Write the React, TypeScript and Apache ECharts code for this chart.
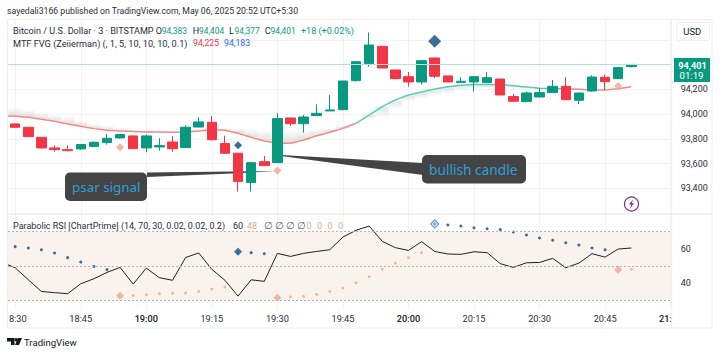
import React, { useEffect, useRef } from "react";
import * as echarts from "echarts";

const timeLabels = ["18:30","18:45","19:00","19:15","19:30","19:45","20:00","20:15","20:30","20:45","21:00"];
const priceTicks = [93400,93600,93800,94000,94200,94400,94600];
const priceLabels = [93400,93600,93800,94000,94200];
const oscLabels = [40,60];
const oscLevels = [70,50,30];

// open, close, low, high
const candles = [
[93920,93893,93887,93925],[93893,93817,93817,93893],[93812,93726,93720,93812],[93726,93712,93696,93747],
[93712,93704,93699,93747],[93718,93753,93712,93753],[93737,93772,93734,93777],[93769,93804,93753,93839],
[93807,93834,93801,93839],[93823,93720,93720,93823],[93726,93823,93691,93834],[93734,93745,93704,93804],
[93774,93720,93696,93823],[93729,93893,93726,93909],[93895,93936,93893,93974],[93933,93793,93785,93984],
[93761,93683,93680,93825],[93683,93454,93373,93683],[93446,93607,93373,93610],[93615,93583,93583,93661],
[93607,93963,93605,94006],[93968,93922,93904,93968],[93922,93976,93850,93992],[93987,94006,93984,94079],
[94025,94033,94025,94154],[94035,94267,94033,94267],[94270,94423,94262,94423],[94407,94558,94383,94658],
[94547,94372,94372,94547],[94356,94286,94281,94356],[94302,94259,94221,94340],[94259,94431,94238,94437],
[94453,94305,94291,94453],[94308,94259,94259,94308],[94256,94265,94254,94297],[94259,94302,94181,94308],
[94254,94294,94254,94340],[94283,94154,94154,94283],[94141,94103,94100,94162],[94100,94170,94098,94181],
[94138,94173,94135,94211],[94173,94224,94170,94275],[94224,94116,94113,94297],[94111,94170,94081,94170],
[94186,94299,94181,94313],[94297,94262,94194,94318],[94286,94375,94283,94375],[94383,94401,94377,94404],
];
const maValues = [93982,93974,93957,93941,93920,93901,93882,93869,93863,93858,93855,93855,93852,93855,93863,93874,93869,93844,93812,93782,93763,93763,93790,93825,93852,93885,93925,93992,94060,94114,94154,94178,94202,94221,94232,94238,94238,94238,94229,94219,94208,94205,94205,94200,94194,94194,94205,94221];
const fvgEdge = [94046,94033,94011,93992,93974,93947,93920,93904,93887,93877,93871,93866,93863,93866,93877,93885,93887,93885,93877,93866,93858,93866,93871,93877,93885,93904,93925,93965,93979,94046,94100,94127,94146,94167,94194,94205,94211,94216,94216,94208];
const rsiValues = [49.0,42.0,35.2,34.5,33.9,39.7,42.6,46.3,49.2,39.5,48.8,43.2,41.7,55.0,57.6,48.1,41.7,32.5,42.0,41.1,57.4,55.6,57.4,58.5,59.5,66.9,70.8,73.3,64.4,60.7,59.1,64.2,58.5,57.0,56.8,58.3,57.8,51.4,49.2,51.9,52.1,54.5,49.0,51.7,57.2,55.2,59.9,60.5];
const psarDown: [number, number][] = [[0,61.3],[1,60.5],[2,59.5],[3,57.6],[4,54.9],[5,52.3],[6,49.8],[7,47.9],[18,57.8],[19,57.2],[33,73.9],[34,73.3],[35,72.3],[36,71.7],[37,71.2],[38,69.8],[39,68.1],[40,66.3],[41,65.0],[42,63.6],[43,62.2],[44,60.5],[45,59.5]];
const psarUp: [number, number][] = [[9,32.9],[10,33.3],[11,33.9],[12,34.1],[13,34.3],[14,35.2],[15,36.6],[16,37.8],[21,32.1],[22,32.3],[23,33.5],[24,35.2],[25,37.2],[26,40.3],[27,43.8],[28,48.1],[29,51.7],[30,54.9],[31,57.8],[47,48.1]];
const psarFlipUp: [number, number][] = [[8,32.7],[20,31.6],[46,47.9]];
const psarFlipDown: [number, number][] = [[17,58.3]];
const psarHollow: [number, number][] = [[32,74.5]];
const priceFlipUp: [number, number][] = [[8,93731],[20,93543],[46,94227]];
const priceFlipDown: [number, number][] = [[17,93747]];
const priceBigDown: [number, number][] = [[32,94588]];

const RED = "#f23645", GREEN = "#089981", NAVY = "#0a4a7d", SALMON = "#e9a88c", GRID = "#f1f3f6", FRAME = "#eceef2";
const FONT = "Roboto, sans-serif";
const NOTE_FONT = "'Noto Sans', sans-serif";
const X_MIN = -0.55, X_MAX = 50.08;
const fmtPrice = (v: number) => v.toLocaleString("en-US");

function Chart() {
  const ref = useRef<HTMLDivElement>(null);
  useEffect(() => {
    const chart = echarts.init(ref.current!, undefined, { renderer: "svg" });
    const txt = (x: number, y: number, text: string, fill = "#131722", size = 9.1, extra: any = {}) => ({
      type: "text", x, y, z: 60, silent: true,
      style: { text, fill, font: `${extra.weight || 400} ${size}px ${extra.family || FONT}`, textAlign: extra.align || "left", textVerticalAlign: "middle" },
    });
    const poly = (points: number[][], fill: string, z = 55) => ({ type: "polygon", z, silent: true, shape: { points }, style: { fill } });
    const idx = candles.map((_, i) => i);
    const redIdx = (i: number) => i <= 25 || i >= 42;
    const maLine = (from: number, to: number, color: string, extra: [number, number][] = []) => ({
      type: "line", xAxisIndex: 0, yAxisIndex: 0, showSymbol: false, silent: true, clip: true, z: 3,
      lineStyle: { color, width: 1.5 },
      data: [...extra, ...idx.slice(from, to + 1).map((i) => [i, maValues[i]])],
    });
    const xAxisBase = (gridIndex: number, show: boolean) => ({
      type: "value", gridIndex, min: X_MIN, max: X_MAX,
      axisLine: { show: false }, axisTick: { show: false, customValues: timeLabels.map((_, i) => i * 5) },
      splitLine: { show: true, lineStyle: { color: GRID, width: 1 } },
      axisLabel: show ? {
        show: true, customValues: timeLabels.map((_, i) => i * 5), margin: 5, hideOverlap: false, showMinLabel: true, showMaxLabel: true,
        formatter: (v: number) => {
          const s = timeLabels[Math.round(v / 5)];
          return s.endsWith(":00") ? `{b|${s}}` : `{n|${s}}`;
        },
        rich: {
          b: { fontFamily: FONT, fontSize: 9.2, fontWeight: 500, color: "#131722" },
          n: { fontFamily: FONT, fontSize: 9.2, color: "#2a2e39" },
        },
      } : { show: false },
    });
    chart.setOption({
      animation: false,
      backgroundColor: "#fff",
      grid: [
        { left: 8, top: 19.5, width: 663.7, height: 194.5 },
        { left: 8, top: 214, width: 663.7, height: 95 },
      ],
      xAxis: [xAxisBase(0, false), xAxisBase(1, true)],
      yAxis: [
        {
          type: "value", gridIndex: 0, position: "right", min: 93192, max: 94764, scale: true,
          axisLine: { show: false }, axisTick: { show: false, customValues: priceTicks },
          splitLine: { show: true, lineStyle: { color: GRID, width: 1 } },
          axisLabel: { customValues: priceLabels, margin: 9, color: "#2a2e39", fontFamily: FONT, fontSize: 9, formatter: fmtPrice },
        },
        {
          type: "value", gridIndex: 1, position: "right", min: 25, max: 80.3,
          axisLine: { show: false }, axisTick: { show: false, customValues: oscLabels },
          splitLine: { show: false },
          axisLabel: { customValues: oscLabels, margin: 9, color: "#2a2e39", fontFamily: FONT, fontSize: 9 },
        },
      ],
      series: [
        {
          type: "custom", xAxisIndex: 0, yAxisIndex: 0, silent: true, z: 1, clip: true,
          data: fvgEdge.map((e, i) => [i, maValues[i], e]),
          encode: { x: 0, y: [1, 2] },
          renderItem: (_p: any, api: any) => {
            const i = api.value(0), a = api.coord([i - 0.5, api.value(1)]), b = api.coord([i + 0.5, api.value(2)]);
            const isRed = redIdx(i);
            const above = b[1] < a[1];
            return {
              type: "rect",
              shape: { x: a[0], y: Math.min(a[1], b[1]), width: b[0] - a[0], height: Math.abs(b[1] - a[1]) },
              style: { fill: new echarts.graphic.LinearGradient(0, above ? 1 : 0, 0, above ? 0 : 1, [
                { offset: 0, color: isRed ? "rgba(238,190,190,0.55)" : "rgba(190,232,218,0.5)" },
                { offset: 0.45, color: "rgba(208,208,208,0.42)" },
                { offset: 1, color: "rgba(222,222,222,0.1)" },
              ]) },
            };
          },
        },
        maLine(0, 26, "#ec8d8d", [[-1, 93984]]),
        maLine(26, 42, "#56cfae"),
        maLine(42, 47, "#ec8d8d"),
        {
          type: "candlestick", xAxisIndex: 0, yAxisIndex: 0, barWidth: 10, z: 4, silent: true,
          itemStyle: { color: GREEN, color0: RED, borderColor: GREEN, borderColor0: RED, borderWidth: 1 },
          encode: { x: 0, y: [1, 2, 3, 4] },
          data: candles.map((c, i) => [i, ...c]),
          markLine: {
            silent: true, symbol: "none", label: { show: false },
            lineStyle: { color: "#b5e2d6", type: "solid", width: 1 },
            data: [{ yAxis: candles[47][1] }],
          },
        },
        { type: "scatter", xAxisIndex: 0, yAxisIndex: 0, symbol: "diamond", symbolSize: 8, itemStyle: { color: SALMON }, data: priceFlipUp, z: 5, silent: true },
        { type: "scatter", xAxisIndex: 0, yAxisIndex: 0, symbol: "diamond", symbolSize: 8, itemStyle: { color: NAVY }, data: priceFlipDown, z: 5, silent: true },
        { type: "scatter", xAxisIndex: 0, yAxisIndex: 0, symbol: "diamond", symbolSize: 13, itemStyle: { color: NAVY }, data: priceBigDown, z: 5, silent: true },
        {
          type: "line", xAxisIndex: 1, yAxisIndex: 1, symbol: "none", silent: true, z: 3,
          lineStyle: { color: "#1e2025", width: 1 },
          data: [[-1, 52.1], ...rsiValues.map((v, i) => [i, v])],
          markArea: { silent: true, itemStyle: { color: "#f9f2ed" }, data: [[{ yAxis: oscLevels[2], x: 8 }, { yAxis: oscLevels[0], x: 671.7 }]] },
          markLine: {
            silent: true, symbol: "none", label: { show: false },
            lineStyle: { color: "#b5b3b0", type: [2, 2], width: 1 },
            data: oscLevels.map((v) => ({ yAxis: v })),
          },
        },
        { type: "scatter", xAxisIndex: 1, yAxisIndex: 1, symbol: "circle", symbolSize: 3, itemStyle: { color: NAVY }, data: psarDown, z: 4, silent: true },
        { type: "scatter", xAxisIndex: 1, yAxisIndex: 1, symbol: "circle", symbolSize: 2.8, itemStyle: { color: "#e9a28a" }, data: psarUp, z: 4, silent: true },
        { type: "scatter", xAxisIndex: 1, yAxisIndex: 1, symbol: "diamond", symbolSize: 8, itemStyle: { color: SALMON }, data: psarFlipUp, z: 4, silent: true },
        { type: "scatter", xAxisIndex: 1, yAxisIndex: 1, symbol: "diamond", symbolSize: 8, itemStyle: { color: NAVY }, data: psarFlipDown, z: 4, silent: true },
        { type: "scatter", xAxisIndex: 1, yAxisIndex: 1, symbol: "diamond", symbolSize: 8, itemStyle: { color: "#eaf3fa", borderColor: "#3d86bd", borderWidth: 1.2 }, data: psarHollow, z: 4, silent: true },
        { type: "scatter", xAxisIndex: 1, yAxisIndex: 1, symbol: "diamond", symbolSize: 3.5, itemStyle: { color: "#3d86bd" }, data: psarHollow, z: 5, silent: true },
      ],
      graphic: { elements: [
        { type: "rect", z: 50, silent: true, shape: { x: 0, y: 309, width: 7.5, height: 20 }, style: { fill: "#fff" } },
        { type: "rect", z: 50, silent: true, shape: { x: 672, y: 309, width: 39.5, height: 18 }, style: { fill: "#fff" } },
        { type: "rect", z: 51, silent: true, shape: { x: 7.5, y: 19.5, width: 704.5, height: 308.5 }, style: { fill: "none", stroke: FRAME, lineWidth: 1 } },
        { type: "line", z: 51, silent: true, shape: { x1: 671.7, y1: 19.5, x2: 671.7, y2: 328 }, style: { stroke: FRAME, lineWidth: 1 } },
        { type: "line", z: 51, silent: true, shape: { x1: 7.5, y1: 214, x2: 712, y2: 214 }, style: { stroke: "#e3e5ea", lineWidth: 1 } },
        txt(7, 11, "sayedali3166 published on TradingView.com, May 06, 2025 20:52 UTC+5:30", "#2a2e39", 8.7),
        txt(13, 30.5, "Bitcoin / U.S. Dollar · 3 · BITSTAMP", "#2a2e39"),
        txt(155.7, 30.5, "O", "#2a2e39"), txt(161.7, 30.5, "94,383", GREEN, 8.4),
        txt(192.7, 30.5, "H", "#2a2e39"), txt(199, 30.5, "94,404", GREEN, 8.4),
        txt(229, 30.5, "L", "#2a2e39"), txt(234.5, 30.5, "94,377", GREEN, 8.4),
        txt(264.7, 30.5, "C", "#2a2e39"), txt(270.5, 30.5, "94,401", GREEN, 8.4),
        txt(301, 30.5, "+18 (+0.02%)", GREEN, 9),
        txt(13, 43, "MTF FVG (Zeiierman) (, 1, 5, 10, 10, 10, 0.1)", "#2a2e39", 9.2),
        txt(193, 43, "94,225", RED, 8.7), txt(224, 43, "94,183", "#2962ff", 8.7),
        txt(13, 225.7, "Parabolic RSI [ChartPrime] (14, 70, 30, 0.02, 0.02, 0.2)", "#2a2e39", 9),
        txt(233, 225.7, "60", "#2a2e39"), txt(247, 225.7, "48", SALMON),
        ...[264, 275, 286, 297].map((x) => txt(x, 225.7, "∅", "#5a5d66", 9.5)),
        ...[306.5, 317, 327.5, 338].map((x) => txt(x, 225.7, "0", SALMON)),
        { type: "rect", z: 52, silent: true, shape: { x: 676.5, y: 22.5, width: 33, height: 18, r: 2 }, style: { fill: "#fff", stroke: "#eceef2" } },
        txt(683.3, 31.5, "USD", "#131722", 9.5),
        { type: "rect", z: 52, silent: true, shape: { x: 674, y: 58, width: 36, height: 24 }, style: { fill: GREEN } },
        txt(692.5, 65, "94,401", "#fff", 9.2, { align: "center", weight: 700 }),
        txt(691.5, 75, "01:19", "#fff", 9.6, { align: "center", weight: 400 }),
        poly([[147, 172.5], [147, 177], [232, 173.5], [276, 171.2], [232, 171.5]], "#444444", 2),
        { type: "rect", z: 56, silent: true, shape: { x: 65, y: 172.5, width: 82, height: 28.5, r: 5 }, style: { fill: "#444444" } },
        txt(72, 186.5, "psar signal", "#2f9fdb", 13.4, { family: NOTE_FONT }),
        poly([[281, 155], [423, 163], [423, 175], [281, 156]], "#444444", 2),
        { type: "rect", z: 56, silent: true, shape: { x: 422, y: 155, width: 104, height: 28.5, r: 5 }, style: { fill: "#444444" } },
        txt(429, 169, "bullish candle", "#2f9fdb", 13.7, { family: NOTE_FONT }),
        { type: "circle", z: 52, silent: true, shape: { cx: 631.5, cy: 204, r: 7 }, style: { fill: "#fff", stroke: "#7b2a94", lineWidth: 1.2 } },
        poly([[633, 199.5], [629, 204.5], [631.2, 204.5], [630, 208.5], [634, 203.3], [631.8, 203.3]], "#7b2a94", 53),
        poly([[7, 338], [14.5, 338], [14.5, 345], [11, 345], [11, 341.5], [7, 341.5]], "#131722"),
        { type: "circle", z: 55, silent: true, shape: { cx: 16.2, cy: 339.7, r: 1.7 }, style: { fill: "#131722" } },
        poly([[18, 338], [22, 338], [19, 345], [15, 345]], "#131722"),
        txt(24, 342, "TradingView", "#131722", 9.6),
      ] },
    });
    return () => chart.dispose();
  }, []);
  return <div ref={ref} style={{ width: 720, height: 354 }} />;
}

export default function App() {
  useEffect(() => { document.body.style.margin = "0"; }, []);
  return <Chart />;
}
